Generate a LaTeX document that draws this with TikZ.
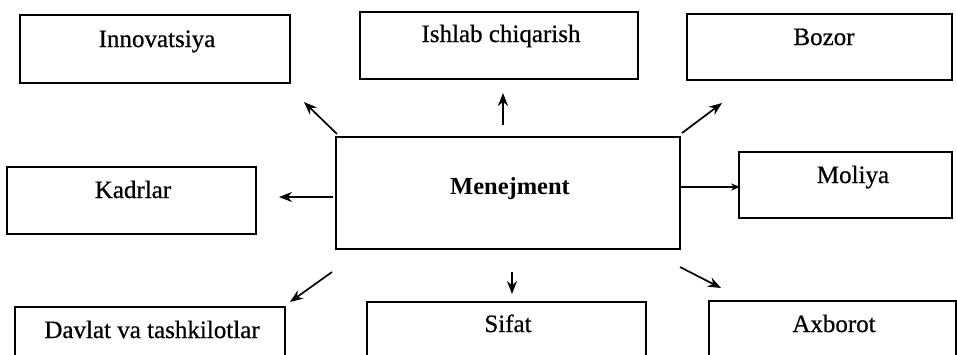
\documentclass[tikz,border=0pt]{standalone}
\usepackage{fontspec}
\setmainfont{Liberation Serif}
\newfontfamily\heavyserif[FakeBold=0.6]{Liberation Serif}
\usetikzlibrary{arrows.meta}
\begin{document}
\begin{tikzpicture}[x=1pt,y=-1pt,
  boxline/.style={draw=black,line width=1.8pt},
  lbl/.style={anchor=base,inner sep=0pt,font=\heavyserif\fontsize{25}{28}\selectfont},
  hub/.style={anchor=base,inner sep=0pt,font=\fontsize{24.5}{28}\selectfont\bfseries},
  link/.style={line width=1.7pt,-{Stealth[length=13pt,width=10pt]}}]
\useasboundingbox (0,0) rectangle (957,354);
\clip (0,0) rectangle (957,354);
\fill[white] (0,0) rectangle (957,354);
% boxes
\draw[boxline] (20,15) rectangle (290,83);
\draw[boxline] (360,12) rectangle (638,79);
\draw[boxline] (687,14) rectangle (952,80);
\draw[boxline] (7,167) rectangle (256,234);
\draw[boxline] (336,137) rectangle (680,249);
\draw[boxline] (739,152) rectangle (952,218);
\draw[boxline] (15,307) rectangle (285,362);
\draw[boxline] (367,302) rectangle (646,362);
\draw[boxline] (709,301) rectangle (956,362);
% labels
\node[lbl] (innov) at (157,47) {Innovatsiya};
\node[lbl] (ishlab) at (501,42) {Ishlab chiqarish};
\node[lbl] (bozor) at (824,45) {Bozor};
\node[lbl] (kadr) at (133,198) {Kadrlar};
\node[hub] (men) at (510,194) {Menejment};
\node[lbl] (moliya) at (853,183) {Moliya};
\node[lbl] (davlat) at (152,338) {Davlat va tashkilotlar};
\node[lbl] (sifat) at (508,332) {Sifat};
\node[lbl] (axb) at (834,332) {Axborot};
% arrow ends
\coordinate (a1s) at (337,134); \coordinate (a1e) at (304,102);
\coordinate (a2s) at (503,125); \coordinate (a2e) at (503,93);
\coordinate (a3s) at (682,133); \coordinate (a3e) at (722,103);
\coordinate (a4s) at (333,197); \coordinate (a4e) at (279,197);
\coordinate (a5s) at (680,187); \coordinate (a5e) at (740,187);
\coordinate (a6s) at (332,272); \coordinate (a6e) at (290,302);
\coordinate (a7s) at (512,272); \coordinate (a7e) at (512,294);
\coordinate (a8s) at (680,267); \coordinate (a8e) at (721,288);
\draw[link] (a1s) -- (a1e);
\draw[link] (a2s) -- (a2e);
\draw[link] (a3s) -- (a3e);
\draw[link] (a4s) -- (a4e);
\draw[link,-{Stealth[length=9pt,width=7pt]}] (a5s) -- (a5e);
\draw[link] (a6s) -- (a6e);
\draw[link] (a7s) -- (a7e);
\draw[link] (a8s) -- (a8e);
\end{tikzpicture}
\end{document}
